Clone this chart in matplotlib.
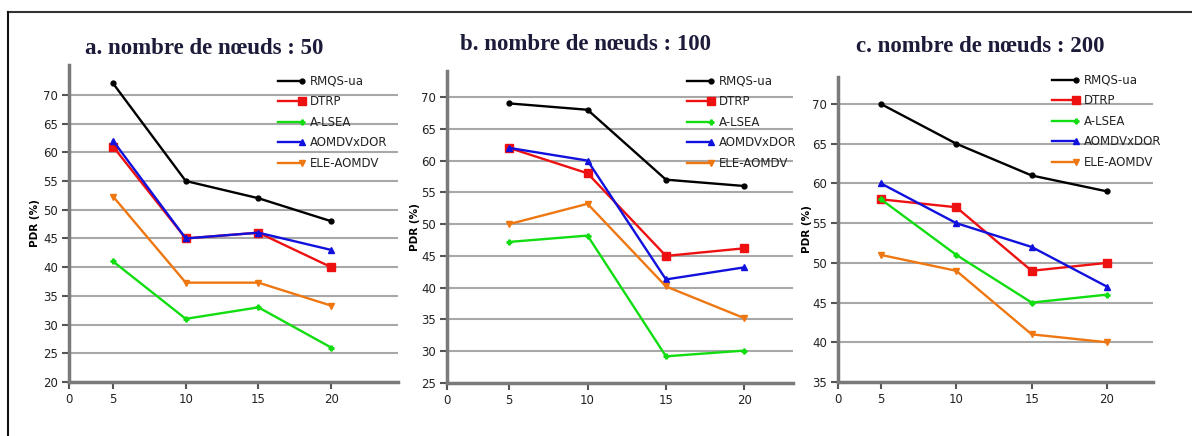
import matplotlib
matplotlib.use("Agg")
import matplotlib.pyplot as plt
from matplotlib.lines import Line2D

# x values (number of ... per run)
x_vals = [5, 10, 15, 20]
series_names = ["RMQS-ua", "DTRP", "A-LSEA", "AOMDVxDOR", "ELE-AOMDV"]

# panel a: 50 nodes
a_rmqs = [72, 55, 52, 48]
a_dtrp = [61, 45, 46, 40]
a_lsea = [41, 31, 33, 26]
a_aomdvx = [62, 45, 46, 43]
a_ele = [52.3, 37.3, 37.3, 33.3]

# panel b: 100 nodes
b_rmqs = [69, 68, 57, 56]
b_dtrp = [62, 58, 45, 46.2]
b_lsea = [47.2, 48.2, 29.2, 30.1]
b_aomdvx = [62, 60, 41.3, 43.2]
b_ele = [50, 53.2, 40.2, 35.2]

# panel c: 200 nodes
c_rmqs = [70, 65, 61, 59]
c_dtrp = [58, 57, 49, 50]
c_lsea = [58, 51, 45, 46]
c_aomdvx = [60, 55, 52, 47]
c_ele = [51, 49, 41, 40]

titles = ["a. nombre de nœuds : 50", "b. nombre de nœuds : 100", "c. nombre de nœuds : 200"]
y_ticks = [list(range(20, 71, 5)), list(range(25, 71, 5)), list(range(35, 71, 5))]
x_tick_labels = ["0", "5", "10", "15", "20"]

colors = ["#000000", "#ee1111", "#11dd11", "#1111dd", "#ee7711"]
markers = ["o", "s", "P", "^", "v"]
msizes = [3.5, 5.5, 3.5, 4.5, 4.5]

W, H = 1192, 436
fig = plt.figure(figsize=(W / 100, H / 100), dpi=100)

narrow = ["Liberation Sans Narrow", "DejaVu Sans"]

# axes boxes in pixels: left, right, top, bottom
boxes = [(69, 398, 65, 382), (447, 793, 71, 383), (838, 1153, 77, 382)]
ylims = [(20, 75.2), (25, 74.1), (35, 73.4)]
xlims = [(1.97, 24.6), (1.04, 23.1), (2.15, 23.05)]
title_pos = [(204, 49), (585, 45), (980, 47)]
ylabel_x = [35, 415, 807]
legend_pos = [(278, 73), (687, 73), (1052, 72)]

data = [
    [a_rmqs, a_dtrp, a_lsea, a_aomdvx, a_ele],
    [b_rmqs, b_dtrp, b_lsea, b_aomdvx, b_ele],
    [c_rmqs, c_dtrp, c_lsea, c_aomdvx, c_ele],
]

for i in range(3):
    l, r, t, b = boxes[i]
    ax = fig.add_axes([l / W, 1 - b / H, (r - l) / W, (b - t) / H])
    for j, ys in enumerate(data[i]):
        ax.plot(x_vals, ys, color=colors[j], marker=markers[j], markersize=msizes[j],
                linewidth=1.7, label=series_names[j], zorder=3)
    ax.set_ylim(*ylims[i])
    ax.set_xlim(*xlims[i])
    ax.set_yticks(y_ticks[i])
    ax.set_xticks([xlims[i][0]] + x_vals)
    ax.set_xticklabels(x_tick_labels)
    for lab in ax.get_xticklabels() + ax.get_yticklabels():
        lab.set_family(narrow)
        lab.set_fontsize(8.5)
        lab.set_color("#222222")
    ax.tick_params(axis="both", length=5, width=1.5, color="#555555", pad=3)
    ax.grid(axis="y", color="#a8a8a8", linewidth=1.5, zorder=0)
    for s in ["top", "right"]:
        ax.spines[s].set_visible(False)
    for s in ["left", "bottom"]:
        ax.spines[s].set_color("#7a7a7a")
        ax.spines[s].set_linewidth(2.5)

    fig.text(ylabel_x[i] / W, 1 - ((t + b) / 2) / H, "PDR (%)", rotation=90,
             ha="center", va="center", fontsize=7.5, fontweight="bold")
    fig.text(title_pos[i][0] / W, 1 - title_pos[i][1] / H, titles[i], ha="center",
             va="center", fontsize=16.5, fontweight="bold", family="Liberation Serif",
             color="#1c1c3a")

    # legend
    lx, ly = legend_pos[i]
    for j in range(5):
        yy = 1 - (ly + 8 + j * 20.5) / H
        fig.add_artist(Line2D([lx / W, (lx + 24) / W], [yy, yy], color=colors[j],
                              marker=markers[j], markersize=msizes[j], markevery=[1],
                              linewidth=1.7, transform=fig.transFigure))
        fig.text((lx + 32) / W, yy, series_names[j], ha="left", va="center",
                 fontsize=8.5, family=narrow, color="#222222")

# outer frame (top and left)
fig.add_artist(Line2D([8 / W, 1], [1 - 12 / H, 1 - 12 / H], color="#333333",
                      linewidth=1.5, transform=fig.transFigure))
fig.add_artist(Line2D([8 / W, 8 / W], [1 - 12 / H, 0], color="#111111",
                      linewidth=1.5, transform=fig.transFigure))

fig.savefig("out.png", dpi=100)
